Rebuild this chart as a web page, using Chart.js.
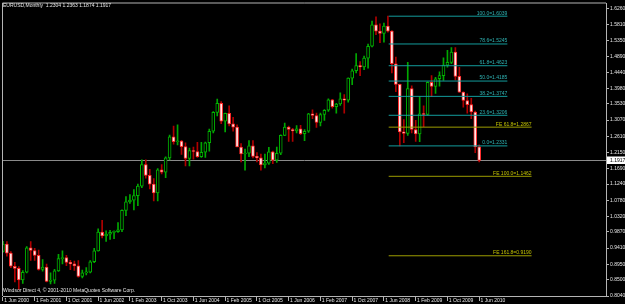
<!DOCTYPE html>
<html>
<head>
<meta charset="utf-8">
<script src="https://cdn.jsdelivr.net/npm/chart.js@4.4.0/dist/chart.umd.min.js"></script>
<style>
  html, body { margin: 0; padding: 0; background: #000; }
  #wrap { width: 625px; height: 304px; }
</style>
</head>
<body>
<div id="wrap"><canvas id="chart" width="625" height="304"></canvas></div>
<script>
// EURUSD monthly candles, Jun 2000 .. Jun 2010 (one entry per month)
const opens = [
  0.9318, 0.9525, 0.9265, 0.8890, 0.8830, 0.8500, 0.8720,
  0.9420, 0.9340, 0.9200, 0.8800, 0.8870, 0.8460, 0.8490, 0.8760, 0.9110, 0.9140, 0.9000, 0.8960,
  0.8900, 0.8600, 0.8700, 0.8720, 0.9020, 0.9330, 0.9870, 0.9760, 0.9810, 0.9860, 0.9880, 0.9930,
  1.0490, 1.0730, 1.0780, 1.0910, 1.1180, 1.1800, 1.1490, 1.1240, 1.0990, 1.1650, 1.1580, 1.1990,
  1.2590, 1.2450, 1.2470, 1.2310, 1.1970, 1.2200, 1.2170, 1.2020, 1.2150, 1.2420, 1.2750, 1.3290,
  1.3550, 1.3040, 1.3260, 1.2960, 1.2870, 1.2300, 1.2100, 1.2120, 1.2330, 1.2030, 1.1990, 1.1790,
  1.1840, 1.2160, 1.1920, 1.2120, 1.2630, 1.2870, 1.2800, 1.2760, 1.2820, 1.2680, 1.2750, 1.3250,
  1.3200, 1.3000, 1.3230, 1.3350, 1.3650, 1.3450, 1.3530, 1.3680, 1.3640, 1.4270, 1.4480, 1.4630,
  1.4590, 1.4840, 1.5180, 1.5790, 1.5610, 1.5550, 1.5760, 1.5610, 1.4680, 1.4090, 1.2730, 1.2690,
  1.3970, 1.2800, 1.2670, 1.3250, 1.3230, 1.4150, 1.4030, 1.4250, 1.4340, 1.4640, 1.4720, 1.5010,
  1.4320, 1.3870, 1.3630, 1.3510, 1.3300, 1.2304
];
const highs = [
  0.9603, 0.9595, 0.9310, 0.9000, 0.8880, 0.8770, 0.9450,
  0.9595, 0.9400, 0.9350, 0.9080, 0.8950, 0.8700, 0.8800, 0.9230, 0.9330, 0.9200, 0.9060, 0.9040,
  0.9050, 0.8780, 0.8850, 0.9050, 0.9400, 0.9960, 1.0200, 0.9900, 0.9920, 0.9900, 1.0140, 1.0500,
  1.0880, 1.0940, 1.1080, 1.1240, 1.1930, 1.1930, 1.1660, 1.1400, 1.1680, 1.1800, 1.2020, 1.2640,
  1.2900, 1.2930, 1.2490, 1.2420, 1.2270, 1.2300, 1.2430, 1.2430, 1.2440, 1.2810, 1.3310, 1.3670,
  1.3600, 1.3270, 1.3480, 1.3150, 1.2930, 1.2400, 1.2240, 1.2480, 1.2480, 1.2140, 1.2100, 1.2100,
  1.2290, 1.2180, 1.2300, 1.2650, 1.2980, 1.2900, 1.2830, 1.2910, 1.2920, 1.2800, 1.3260, 1.3360,
  1.3270, 1.3270, 1.3370, 1.3680, 1.3660, 1.3550, 1.3850, 1.3800, 1.4280, 1.4530, 1.4970, 1.4740,
  1.4900, 1.5240, 1.5900, 1.6020, 1.5820, 1.5840, 1.6039, 1.5630, 1.4870, 1.4100, 1.3080, 1.4720,
  1.4050, 1.3060, 1.3740, 1.3480, 1.4160, 1.4340, 1.4290, 1.4450, 1.4850, 1.5060, 1.5140, 1.5140,
  1.4580, 1.3880, 1.3820, 1.3690, 1.3330, 1.2363
];
const lows = [
  0.9290, 0.9180, 0.8850, 0.8440, 0.8228, 0.8400, 0.8700,
  0.9060, 0.9060, 0.8780, 0.8750, 0.8440, 0.8385, 0.8400, 0.8740, 0.8960, 0.8910, 0.8790, 0.8770,
  0.8580, 0.8560, 0.8640, 0.8700, 0.8990, 0.9320, 0.9700, 0.9600, 0.9660, 0.9680, 0.9860, 0.9880,
  1.0340, 1.0690, 1.0500, 1.0620, 1.1140, 1.1410, 1.1100, 1.0760, 1.0760, 1.1530, 1.1420, 1.1930,
  1.2380, 1.2360, 1.2090, 1.1760, 1.1760, 1.1950, 1.2000, 1.2000, 1.2000, 1.2180, 1.2700, 1.3190,
  1.2970, 1.2730, 1.2900, 1.2750, 1.2300, 1.1870, 1.1640, 1.2020, 1.1990, 1.1870, 1.1640, 1.1700,
  1.1800, 1.1820, 1.1860, 1.2080, 1.2620, 1.2460, 1.2460, 1.2700, 1.2650, 1.2480, 1.2720, 1.3110,
  1.2860, 1.2900, 1.3060, 1.3320, 1.3410, 1.3270, 1.3490, 1.3270, 1.3580, 1.4080, 1.4420, 1.4340,
  1.4510, 1.4550, 1.5160, 1.5510, 1.5280, 1.5300, 1.5580, 1.4420, 1.3880, 1.2331, 1.2420, 1.2630,
  1.2700, 1.2460, 1.2450, 1.2880, 1.3210, 1.3740, 1.3830, 1.4040, 1.4200, 1.4580, 1.4680, 1.4220,
  1.3860, 1.3440, 1.3270, 1.3110, 1.2140, 1.1874
];
const closes = [
  0.9525, 0.9265, 0.8890, 0.8830, 0.8500, 0.8720, 0.9420,
  0.9340, 0.9200, 0.8800, 0.8870, 0.8460, 0.8490, 0.8760, 0.9110, 0.9140, 0.9000, 0.8960, 0.8900,
  0.8600, 0.8700, 0.8720, 0.9020, 0.9330, 0.9870, 0.9760, 0.9810, 0.9860, 0.9880, 0.9930, 1.0490,
  1.0730, 1.0780, 1.0910, 1.1180, 1.1800, 1.1490, 1.1240, 1.0990, 1.1650, 1.1580, 1.1990, 1.2590,
  1.2450, 1.2470, 1.2310, 1.1970, 1.2200, 1.2170, 1.2020, 1.2150, 1.2420, 1.2750, 1.3290, 1.3550,
  1.3040, 1.3260, 1.2960, 1.2870, 1.2300, 1.2100, 1.2120, 1.2330, 1.2030, 1.1990, 1.1790, 1.1840,
  1.2160, 1.1920, 1.2120, 1.2630, 1.2870, 1.2800, 1.2760, 1.2820, 1.2680, 1.2750, 1.3250, 1.3200,
  1.3000, 1.3230, 1.3350, 1.3650, 1.3450, 1.3530, 1.3680, 1.3640, 1.4270, 1.4480, 1.4630, 1.4590,
  1.4840, 1.5180, 1.5790, 1.5610, 1.5550, 1.5760, 1.5610, 1.4680, 1.4090, 1.2730, 1.2690, 1.3970,
  1.2800, 1.2670, 1.3250, 1.3230, 1.4150, 1.4030, 1.4250, 1.4340, 1.4640, 1.4720, 1.5010, 1.4320,
  1.3870, 1.3630, 1.3510, 1.3300, 1.2300, 1.1917
];

// time axis: month index since Jun 2000
const xTickIdx = [0, 8, 16, 24, 32, 40, 48, 56, 64, 72, 80, 88, 96, 104, 112, 120];
const xTickLabels = ['1 Jun 2000', '1 Feb 2001', '1 Oct 2001', '1 Jun 2002', '1 Feb 2003', '1 Oct 2003',
  '1 Jun 2004', '1 Feb 2005', '1 Oct 2005', '1 Jun 2006', '1 Feb 2007', '1 Oct 2007',
  '1 Jun 2008', '1 Feb 2009', '1 Oct 2009', '1 Jun 2010'];
const yTicks = [1.6260, 1.5810, 1.5350, 1.4890, 1.4440, 1.3980, 1.3530, 1.3070, 1.2610, 1.2150,
  1.1690, 1.1240, 1.0780, 1.0320, 0.9870, 0.9410, 0.8950, 0.8500, 0.8040];

// fibonacci retracement (Jul 2008 high -> Oct 2008 low) and expansion levels
const fibNames = ['100.0', '78.6', '61.8', '50.0', '38.2', '23.6', '0.0'];
const fibValues = [1.6039, 1.5245, 1.4623, 1.4185, 1.3747, 1.3206, 1.2331];
const feNames = ['FE 61.8', 'FE 100.0', 'FE 161.8'];
const feValues = [1.2867, 1.1462, 0.9190];
const fibStart = 97.2;
const fibEnd = 127.1;
const feEnd = 133.2;

const FONT = 'Liberation Sans';
const AXIS_COLOR = '#b4b4b4';
const TEXT_COLOR = '#e6e6e6';

const bull = opens.map((o, i) => closes[i] >= o);
const wickColors = bull.map(b => b ? '#00a800' : '#b00000');
const bodyFill = bull.map(b => b ? '#000000' : '#ffe8e8');
const bodyEdge = bull.map(b => b ? '#00b400' : '#ff2a2a');

const datasets = [
  {
    type: 'bar',
    label: 'wick',
    data: opens.map((o, i) => ({ x: i, y: [lows[i], highs[i]] })),
    backgroundColor: wickColors,
    borderWidth: 0,
    barThickness: 1,
    grouped: false,
    order: 3
  },
  {
    type: 'bar',
    label: 'body',
    data: opens.map((o, i) => ({ x: i, y: [o, closes[i]] })),
    backgroundColor: bodyFill,
    borderColor: bodyEdge,
    borderWidth: 1,
    borderSkipped: false,
    barThickness: 3,
    minBarLength: 1,
    grouped: false,
    order: 2
  }
];

fibValues.forEach(v => {
  datasets.push({
    type: 'line',
    data: [{ x: fibStart, y: v }, { x: fibEnd, y: v }],
    borderColor: '#139c9c',
    borderWidth: 1,
    pointRadius: 0,
    order: 1
  });
});
feValues.forEach(v => {
  datasets.push({
    type: 'line',
    data: [{ x: fibStart, y: v }, { x: feEnd, y: v }],
    borderColor: '#9c9c00',
    borderWidth: 1,
    pointRadius: 0,
    order: 1
  });
});

const overlay = {
  id: 'overlay',
  beforeDraw(chart) {
    const ctx = chart.ctx;
    ctx.save();
    ctx.fillStyle = '#000';
    ctx.fillRect(0, 0, chart.width, chart.height);
    ctx.restore();
  },
  beforeDatasetsDraw(chart) {
    const { ctx, chartArea, scales } = chart;
    const y = Math.round(scales.y.getPixelForValue(closes[closes.length - 1])) + 0.5;
    ctx.save();
    ctx.strokeStyle = '#8a8a8a';
    ctx.lineWidth = 1;
    ctx.beginPath();
    ctx.moveTo(chartArea.left, y);
    ctx.lineTo(chartArea.right, y);
    ctx.stroke();
    ctx.restore();
  },
  afterDraw(chart) {
    const { ctx, chartArea, scales } = chart;
    const xs = scales.x, ys = scales.y;
    ctx.save();

    // frame top and left
    ctx.strokeStyle = AXIS_COLOR;
    ctx.lineWidth = 1;
    ctx.beginPath();
    ctx.moveTo(chartArea.left - 0.5, chartArea.bottom);
    ctx.lineTo(chartArea.left - 0.5, chartArea.top - 0.5);
    ctx.lineTo(chartArea.right, chartArea.top - 0.5);
    ctx.stroke();

    ctx.font = '5px "' + FONT + '"';
    ctx.textBaseline = 'bottom';
    ctx.textAlign = 'right';

    ctx.fillStyle = '#2fb4b4';
    fibValues.forEach((v, i) => {
      ctx.fillText(fibNames[i] + '=' + v.toFixed(4), xs.getPixelForValue(fibEnd), ys.getPixelForValue(v) - 0.5);
    });
    ctx.fillStyle = '#c4c400';
    feValues.forEach((v, i) => {
      ctx.fillText(feNames[i] + '=' + v.toFixed(4), xs.getPixelForValue(feEnd), ys.getPixelForValue(v) - 0.5);
    });

    // header and footer
    ctx.textAlign = 'left';
    ctx.textBaseline = 'middle';
    ctx.fillStyle = TEXT_COLOR;
    const last = closes.length - 1;
    ctx.fillText('EURUSD,Monthly  ' + opens[last].toFixed(4) + ' ' + highs[last].toFixed(4) + ' ' +
      lows[last].toFixed(4) + ' ' + closes[last].toFixed(4), 3, 5.5);
    ctx.fillText('Windsor Direct 4, \u00a9 2001-2010 MetaQuotes Software Corp.', 3, 290.5);

    // current price marker on the axis
    const py = Math.round(ys.getPixelForValue(closes[last]));
    ctx.fillStyle = '#ffffff';
    ctx.fillRect(chartArea.right + 1, py - 3.5, 18, 7.5);
    ctx.fillStyle = '#000000';
    ctx.fillText(closes[last].toFixed(4), chartArea.right + 4, py + 0.3);
    ctx.restore();
  }
};

new Chart(document.getElementById('chart'), {
  type: 'bar',
  data: { datasets: datasets },
  options: {
    responsive: false,
    animation: false,
    layout: { padding: { left: 3, top: 3, right: 0, bottom: 0 } },
    plugins: {
      legend: { display: false },
      tooltip: { enabled: false }
    },
    scales: {
      x: {
        type: 'linear',
        position: 'bottom',
        min: 0.02,
        max: 151.95,
        offset: false,
        afterFit: (s) => { s.height = 8; },
        afterBuildTicks: (s) => { s.ticks = xTickIdx.map(v => ({ value: v })); },
        ticks: {
          autoSkip: false,
          maxRotation: 0,
          minRotation: 0,
          align: 'start',
          padding: -3,
          color: TEXT_COLOR,
          font: { family: FONT, size: 5, lineHeight: 1 },
          callback: (v) => ' ' + xTickLabels[xTickIdx.indexOf(v)]
        },
        grid: { drawOnChartArea: false, drawTicks: true, tickLength: 5, color: AXIS_COLOR, offset: false },
        border: { display: true, color: AXIS_COLOR }
      },
      y: {
        type: 'linear',
        position: 'right',
        min: 0.804,
        max: 1.6402,
        beginAtZero: false,
        afterFit: (s) => { s.width = 19; },
        afterBuildTicks: (s) => { s.ticks = yTicks.map(v => ({ value: v })); },
        ticks: {
          autoSkip: false,
          padding: 1,
          color: TEXT_COLOR,
          font: { family: FONT, size: 5, lineHeight: 1 },
          callback: (v) => v.toFixed(4)
        },
        grid: { drawOnChartArea: false, drawTicks: true, tickLength: 3, color: AXIS_COLOR },
        border: { display: true, color: AXIS_COLOR }
      }
    }
  },
  plugins: [overlay]
});
</script>
</body>
</html>
